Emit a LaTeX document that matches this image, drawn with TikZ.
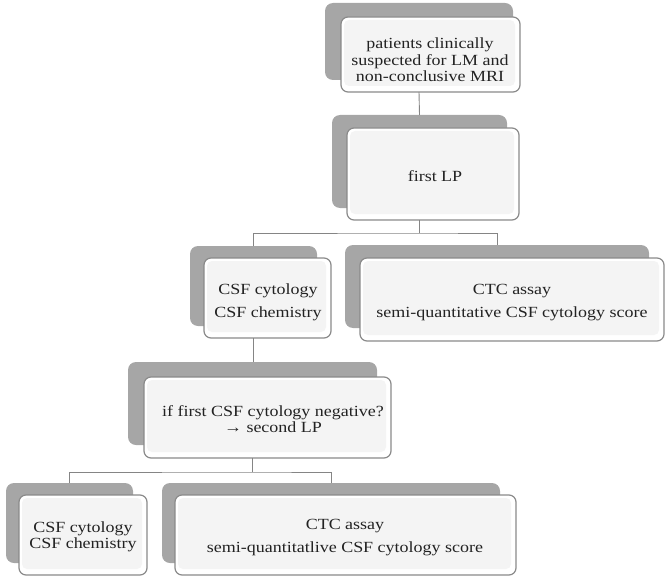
\documentclass[tikz,border=0pt]{standalone}
\usepackage{fontspec}
\setmainfont{Liberation Serif}[FakeStretch=1.16]
\definecolor{shadowgray}{HTML}{A6A6A6}
\definecolor{framegray}{HTML}{8A8A8A}
\definecolor{innerfill}{HTML}{F4F4F4}
\definecolor{linegray}{HTML}{858585}
\definecolor{textgray}{HTML}{222222}
\begin{document}
\begin{tikzpicture}[x=1pt,y=-1pt,
  shadowbox/.style={fill=shadowgray, draw=none, rounded corners=8pt, inner sep=0pt, outer sep=0pt},
  frontbox/.style={fill=white, draw=framegray, line width=1.2pt, rounded corners=7pt, inner sep=0pt, outer sep=0pt,
    path picture={\fill[innerfill, rounded corners=5pt]
      ([shift={(3pt,-3pt)}]path picture bounding box.north west) rectangle
      ([shift={(-5pt,6pt)}]path picture bounding box.south east);}},
  label/.style={align=center, text=textgray, font=\fontsize{15.5}{16.7}\selectfont, inner sep=0pt},
  widelabel/.style={label, font=\fontsize{15.5}{23}\selectfont},
  conn/.style={draw=linegray, line width=0.9pt}
]
\useasboundingbox (0,0) rectangle (668,580);

% shadow nodes (connectors attach to these)
\node[shadowbox, minimum width=188pt, minimum height=77pt] (s1) at (419,41.5) {};
\node[shadowbox, minimum width=175pt, minimum height=93pt] (s2) at (419.5,161.5) {};
\node[shadowbox, minimum width=127pt, minimum height=80pt] (s3) at (253.5,286) {};
\node[shadowbox, minimum width=304pt, minimum height=83pt] (s4) at (497,286.5) {};
\node[shadowbox, minimum width=249pt, minimum height=83pt] (s5) at (252.5,403.5) {};
\node[shadowbox, minimum width=127pt, minimum height=80pt] (s6) at (69.5,523) {};
\node[shadowbox, minimum width=338pt, minimum height=80pt] (s7) at (331,523) {};

% junction points
\coordinate (j1) at (419.5,233);
\coordinate (j2) at (252.5,472);

% front boxes
\node[frontbox, minimum width=179pt, minimum height=75pt] (f1) at (430.5,54.5) {};
\node[frontbox, minimum width=172pt, minimum height=92pt] (f2) at (433,174) {};
\node[frontbox, minimum width=127pt, minimum height=80pt] (f3) at (267.5,298) {};
\node[frontbox, minimum width=304pt, minimum height=83pt] (f4) at (512,299.5) {};
\node[frontbox, minimum width=247pt, minimum height=81pt] (f5) at (267.5,417.5) {};
\node[frontbox, minimum width=128pt, minimum height=80pt] (f6) at (83,535) {};
\node[frontbox, minimum width=341pt, minimum height=80pt] (f7) at (345.5,535) {};

% connectors (only their visible parts)
\begin{scope}[conn]
  \draw (f1.south -| s1.south) -- (s2.north);
  \draw (f2.south -| s2.south) -- (j1);
  \draw (s3.north) |- (j1) -| (s4.north);
  \draw (f3.south -| s3.south) -- (s3.south |- s5.north);
  \draw (f5.south -| s5.south) -- (j2);
  \draw (s6.north) |- (j2) -| (s7.north);
\end{scope}

% texts
\node[label] (t1) at (430,59.8) {patients clinically\\suspected for LM and\\non-conclusive MRI};
\node[label] (t2) at (435,176.4) {first LP};
\node[widelabel] (t3) at (268,301.8) {CSF cytology\\CSF chemistry};
\node[widelabel] (t4) at (512,303) {CTC assay\\semi-quantitative CSF cytology score};
\node[label, font=\fontsize{15.5}{15.5}\selectfont] (t5) at (273,419) {if first CSF cytology negative?\\→ second LP};
\node[label, font=\fontsize{15.5}{15.5}\selectfont] (t6) at (83,537) {CSF cytology\\CSF chemistry};
\node[widelabel] (t7) at (345,538) {CTC assay\\semi-quantitatlive CSF cytology score};
\end{tikzpicture}
\end{document}
